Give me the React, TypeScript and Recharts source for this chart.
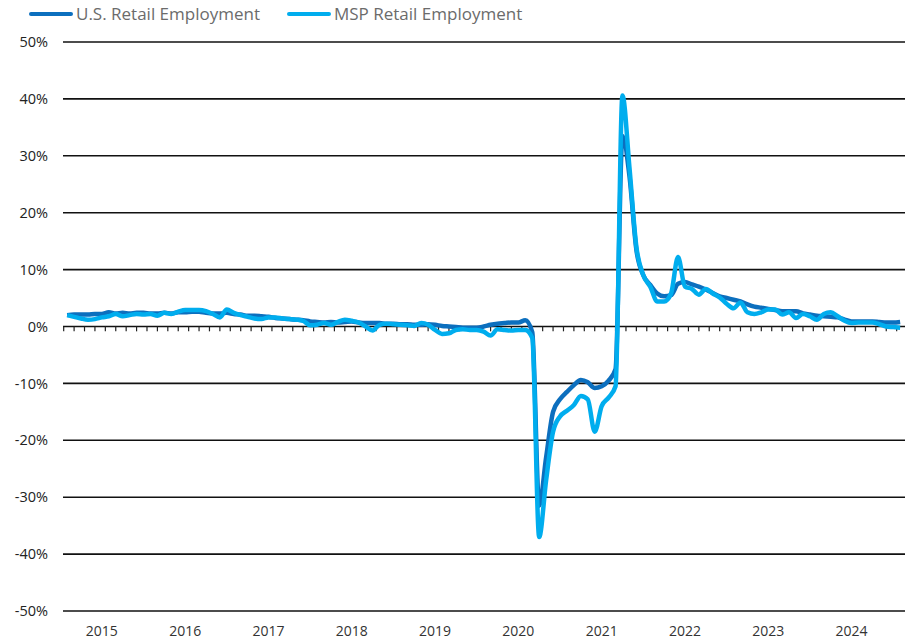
import { LineChart, Line, XAxis, YAxis, CartesianGrid, ReferenceLine } from 'recharts';

// month index: 0 = Jan 2015 (series runs Aug 2014 .. Aug 2024)
const firstMonth = -5;

const usRetail = [
  2.0, 2.1, 2.1, 2.1, 2.2,
  2.2, 2.5, 2.3, 2.4, 2.3, 2.4, 2.4, 2.3, 2.3, 2.4, 2.3, 2.5,
  2.5, 2.6, 2.6, 2.4, 2.3, 2.3, 2.4, 2.2, 2.1, 1.9, 1.9, 1.8,
  1.7, 1.5, 1.4, 1.3, 1.2, 1.1, 0.9, 0.8, 0.7, 0.8, 0.7, 0.8,
  0.9, 0.7, 0.6, 0.6, 0.6, 0.5, 0.5, 0.4, 0.4, 0.3, 0.3, 0.4,
  0.3, 0.1, 0.0, -0.1, -0.2, -0.2, -0.2, 0.0, 0.3, 0.5, 0.6, 0.7,
  0.7, 1.1, -1.0, -31.5, -23.0, -15.0, -12.8, -11.5, -10.3, -9.4, -9.8, -10.8,
  -10.5, -9.5, -7.5, 33.5, 26.5, 13.5, 9.0, 7.3, 5.8, 5.3, 5.5, 7.5,
  7.8, 7.4, 7.0, 6.5, 5.9, 5.3, 5.0, 4.7, 4.4, 3.9, 3.5, 3.3,
  3.1, 2.9, 2.7, 2.7, 2.7, 2.3, 2.1, 1.9, 1.8, 1.7, 1.6, 1.2,
  0.9, 0.9, 0.9, 0.9, 0.8, 0.7, 0.7, 0.8,
];

const mspRetail = [
  2.0, 1.7, 1.4, 1.2, 1.3,
  1.6, 1.8, 2.2, 1.8, 2.0, 2.2, 2.1, 2.2, 1.9, 2.4, 2.2, 2.6,
  2.9, 2.9, 2.9, 2.7, 2.2, 1.6, 3.0, 2.4, 2.0, 1.7, 1.4, 1.3,
  1.6, 1.6, 1.4, 1.3, 1.2, 1.0, 0.2, 0.3, 0.6, 0.3, 0.8, 1.2,
  1.0, 0.7, 0.0, -0.7, 0.3, 0.5, 0.4, 0.3, 0.2, 0.1, 0.6, 0.3,
  -0.6, -1.3, -1.2, -0.6, -0.5, -0.6, -0.6, -0.9, -1.6, -0.5, -0.6, -0.7,
  -0.6, -0.6, -2.0, -37.0, -27.0, -18.5, -15.8, -14.8, -13.8, -12.2, -12.8, -18.5,
  -14.0, -12.5, -10.5, 40.6, 28.0, 14.0, 9.0, 7.0, 4.4, 4.4, 5.8, 12.2,
  7.0, 6.6, 5.6, 6.6, 5.8, 5.1, 4.0, 3.2, 4.2, 2.5, 2.2, 2.5,
  3.0, 3.0, 2.1, 2.5, 1.5, 2.2, 1.8, 1.2, 2.2, 2.5, 1.8, 1.0,
  0.6, 0.7, 0.7, 0.7, 0.4, 0.0, -0.1, -0.2,
];

const yearLabels = ['2015', '2016', '2017', '2018', '2019', '2020', '2021', '2022', '2023', '2024'];
const yearTicks = yearLabels.map((_, i) => i * 12);
const yTicks = [-50, -40, -30, -20, -10, 0, 10, 20, 30, 40, 50];
// small tick marks along the zero line, every 1.5 months
const minorTicks = Array.from({ length: 81 }, (_, k) => -5.5 + 1.5 * k);

const data = usRetail.map((us, i) => ({
  t: firstMonth + i,
  us,
  msp: mspRetail[i],
}));

const US_COLOR = '#0c6fbe';
const MSP_COLOR = '#00adee';
const FONT = '"Open Sans", "Noto Sans", sans-serif';

function LegendItem({ color, label }: { color: string; label: string }) {
  return (
    <div style={{ display: 'flex', alignItems: 'center', marginRight: 27 }}>
      <span style={{ width: 44, height: 4, borderRadius: 2, background: color, marginRight: 3 }} />
      <span>{label}</span>
    </div>
  );
}

export default function App() {
  return (
    <div style={{ position: 'absolute', left: 0, top: 0, width: 913, height: 644, background: '#fff', fontFamily: FONT }}>
      <div
        style={{
          position: 'absolute',
          left: 29,
          top: 2,
          display: 'flex',
          fontSize: 17,
          color: '#6b6b6b',
          zIndex: 2,
        }}
      >
        <LegendItem color={US_COLOR} label="U.S. Retail Employment" />
        <LegendItem color={MSP_COLOR} label="MSP Retail Employment" />
      </div>
      <LineChart width={913} height={644} data={data} margin={{ top: 42, right: 8, bottom: 3, left: 0 }}>
        <CartesianGrid vertical={false} stroke="#111" strokeWidth={1.6} />
        <XAxis
          dataKey="t"
          type="number"
          domain={[-5.6, 115.7]}
          ticks={yearTicks}
          tickFormatter={(v: number) => yearLabels[Math.round(v / 12)]}
          axisLine={false}
          tickLine={false}
          tickSize={0}
          tickMargin={15}
          height={30}
          tick={{ fontSize: 14, fill: '#333', fontFamily: FONT }}
        />
        <YAxis
          domain={[-50, 50]}
          ticks={yTicks}
          tickFormatter={(v: number) => `${v}%`}
          axisLine={false}
          tickLine={false}
          tickSize={0}
          tickMargin={15}
          width={63}
          tick={{ fontSize: 14.5, fill: '#222', fontFamily: FONT }}
        />
        {minorTicks.map((x) => (
          <ReferenceLine
            key={x}
            segment={[{ x, y: 0 }, { x, y: -0.85 }]}
            stroke="#222"
            strokeWidth={1.2}
            ifOverflow="visible"
          />
        ))}
        <Line
          type="monotone"
          dataKey="us"
          stroke={US_COLOR}
          strokeWidth={4.5}
          dot={false}
          isAnimationActive={false}
        />
        <Line
          type="monotone"
          dataKey="msp"
          stroke={MSP_COLOR}
          strokeWidth={4.5}
          dot={false}
          isAnimationActive={false}
        />
      </LineChart>
    </div>
  );
}
